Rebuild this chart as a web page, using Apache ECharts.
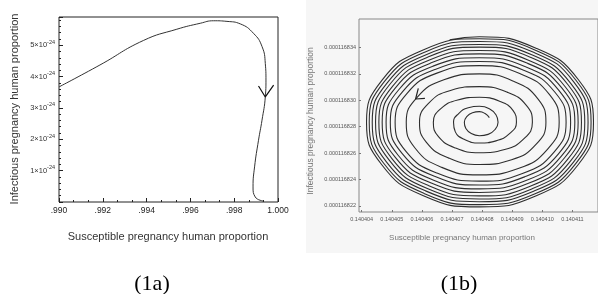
<!DOCTYPE html>
<html>
<head>
<meta charset="utf-8">
<script src="https://cdn.jsdelivr.net/npm/echarts@6/dist/echarts.min.js"></script>
<style>
  html, body { margin: 0; padding: 0; background: #fff; }
  #chart { width: 598px; height: 294px; }
</style>
</head>
<body>
<div id="chart"></div>
<script>
// (1a) trajectory, y in units of 1e-24
var leftX = [0.9900, 0.99187, 0.99385, 0.99538, 0.99645, 0.99706, 0.99767, 0.99828, 0.99888, 0.99927,
  0.99942, 0.99945, 0.99942, 0.99927, 0.99911, 0.99893, 0.99886, 0.99896, 0.99934];
var leftY = [3.67, 4.37, 5.15, 5.51, 5.70, 5.78, 5.76, 5.68, 5.38, 4.96,
  4.42, 3.89, 3.35, 2.61, 1.97, 1.12, 0.48, 0.16, 0.03];
var leftArrowX = [0.99911, 0.99942, 0.99980];
var leftArrowY = [3.70, 3.35, 3.73];
var leftXTicks = [0.990, 0.992, 0.994, 0.996, 0.998, 1.000];
var leftYTicks = [1, 2, 3, 4, 5];

// (1b) spiral, one row per turn (inside out)
var spiralX = [0.14040824, 0.14040811,
  0.14040791, 0.14040768, 0.14040749, 0.14040741, 0.14040746, 0.14040764, 0.14040791, 0.14040820, 0.14040843, 0.14040853, 0.14040846, 0.14040824,
  0.14040791, 0.14040754, 0.14040722, 0.14040705, 0.14040711, 0.14040742, 0.14040791, 0.14040846, 0.14040892, 0.14040914, 0.14040903, 0.14040858,
  0.14040791, 0.14040719, 0.14040662, 0.14040638, 0.14040655, 0.14040711, 0.14040791, 0.14040875, 0.14040940, 0.14040967, 0.14040947, 0.14040883,
  0.14040791, 0.14040695, 0.14040622, 0.14040592, 0.14040615, 0.14040688, 0.14040791, 0.14040898, 0.14040979, 0.14041012, 0.14040986, 0.14040905,
  0.14040791, 0.14040673, 0.14040584, 0.14040548, 0.14040577, 0.14040666, 0.14040791, 0.14040920, 0.14041017, 0.14041056, 0.14041024, 0.14040927,
  0.14040791, 0.14040652, 0.14040550, 0.14040511, 0.14040547, 0.14040650, 0.14040791, 0.14040934, 0.14041039, 0.14041079, 0.14041042, 0.14040936,
  0.14040791, 0.14040644, 0.14040536, 0.14040495, 0.14040534, 0.14040642, 0.14040791, 0.14040941, 0.14041053, 0.14041094, 0.14041055, 0.14040944,
  0.14040791, 0.14040637, 0.14040523, 0.14040481, 0.14040521, 0.14040635, 0.14040791, 0.14040948, 0.14041064, 0.14041108, 0.14041066, 0.14040951,
  0.14040791, 0.14040631, 0.14040512, 0.14040468, 0.14040511, 0.14040629, 0.14040791, 0.14040954, 0.14041074, 0.14041119, 0.14041076, 0.14040956,
  0.14040791, 0.14040625, 0.14040503, 0.14040457, 0.14040501, 0.14040623, 0.14040791, 0.14040960, 0.14041084, 0.14041130, 0.14041086, 0.14040962,
  0.14040791, 0.14040620, 0.14040493, 0.14040446, 0.14040492, 0.14040618, 0.14040791, 0.14040965, 0.14041094, 0.14041141, 0.14041095, 0.14040967,
  0.14040791, 0.14040614, 0.14040484, 0.14040435, 0.14040482, 0.14040612, 0.14040791, 0.14040971, 0.14041103, 0.14041152, 0.14041105, 0.14040973,
  0.14040791, 0.14040609, 0.14040475, 0.14040425, 0.14040473, 0.14040607, 0.14040791, 0.14040976, 0.14041111, 0.14041162, 0.14041113, 0.14040977,
  0.14040791, 0.14040604, 0.14040467, 0.14040416, 0.14040466, 0.14040603, 0.14040791, 0.14040980, 0.14041119, 0.14041170, 0.14041120, 0.14040981,
  0.14040791, 0.14040692];
var spiralY = [0.00011682869, 0.00011682898,
  0.00011682914, 0.00011682906, 0.00011682877, 0.00011682833, 0.00011682786, 0.00011682748, 0.00011682732, 0.00011682742, 0.00011682779, 0.00011682833, 0.00011682891, 0.00011682936,
  0.00011682955, 0.00011682944, 0.00011682900, 0.00011682833, 0.00011682761, 0.00011682703, 0.00011682677, 0.00011682693, 0.00011682749, 0.00011682833, 0.00011682922, 0.00011682993,
  0.00011683023, 0.00011683003, 0.00011682935, 0.00011682833, 0.00011682725, 0.00011682639, 0.00011682603, 0.00011682628, 0.00011682711, 0.00011682833, 0.00011682962, 0.00011683062,
  0.00011683104, 0.00011683075, 0.00011682977, 0.00011682833, 0.00011682682, 0.00011682564, 0.00011682514, 0.00011682550, 0.00011682666, 0.00011682833, 0.00011683009, 0.00011683144,
  0.00011683200, 0.00011683155, 0.00011683022, 0.00011682833, 0.00011682639, 0.00011682492, 0.00011682435, 0.00011682483, 0.00011682629, 0.00011682833, 0.00011683043, 0.00011683201,
  0.00011683263, 0.00011683208, 0.00011683051, 0.00011682833, 0.00011682613, 0.00011682449, 0.00011682388, 0.00011682445, 0.00011682608, 0.00011682833, 0.00011683061, 0.00011683230,
  0.00011683294, 0.00011683234, 0.00011683066, 0.00011682833, 0.00011682598, 0.00011682424, 0.00011682358, 0.00011682420, 0.00011682593, 0.00011682833, 0.00011683075, 0.00011683255,
  0.00011683322, 0.00011683259, 0.00011683080, 0.00011682833, 0.00011682584, 0.00011682399, 0.00011682329, 0.00011682394, 0.00011682579, 0.00011682833, 0.00011683090, 0.00011683280,
  0.00011683352, 0.00011683284, 0.00011683095, 0.00011682833, 0.00011682569, 0.00011682375, 0.00011682302, 0.00011682371, 0.00011682565, 0.00011682833, 0.00011683103, 0.00011683302,
  0.00011683377, 0.00011683306, 0.00011683107, 0.00011682833, 0.00011682557, 0.00011682353, 0.00011682276, 0.00011682349, 0.00011682552, 0.00011682833, 0.00011683116, 0.00011683325,
  0.00011683403, 0.00011683328, 0.00011683120, 0.00011682833, 0.00011682545, 0.00011682332, 0.00011682253, 0.00011682329, 0.00011682541, 0.00011682833, 0.00011683126, 0.00011683343,
  0.00011683423, 0.00011683346, 0.00011683130, 0.00011682833, 0.00011682534, 0.00011682314, 0.00011682232, 0.00011682311, 0.00011682530, 0.00011682833, 0.00011683138, 0.00011683362,
  0.00011683446, 0.00011683365, 0.00011683141, 0.00011682833, 0.00011682523, 0.00011682295, 0.00011682210, 0.00011682292, 0.00011682520, 0.00011682833, 0.00011683148, 0.00011683380,
  0.00011683466, 0.00011683382, 0.00011683151, 0.00011682833, 0.00011682514, 0.00011682279, 0.00011682193, 0.00011682277, 0.00011682512, 0.00011682833, 0.00011683156, 0.00011683393,
  0.00011683481, 0.00011683459];
var rightArrowX = [0.14040588, 0.14040579, 0.14040610];
var rightArrowY = [0.00011683090, 0.00011683010, 0.00011683014];
var rightXTicks = [0.140404, 0.140405, 0.140406, 0.140407, 0.140408, 0.140409, 0.140410, 0.140411];
var rightYTicks = [0.000116822, 0.000116824, 0.000116826, 0.000116828, 0.000116830, 0.000116832, 0.000116834];

function zip (xs, ys) {
  return xs.map(function (x, i) { return [x, ys[i]] })
}

var myChart = echarts.init(document.getElementById('chart'))
var font = 'Liberation Sans'

myChart.setOption({
  animation: false,
  textStyle: { fontFamily: font },
  graphic: [
    { type: 'rect', z: -100, shape: { x: 306, y: 0, width: 292, height: 253 }, style: { fill: '#f6f6f6' } },
    { type: 'text', x: 15, y: 109, rotation: Math.PI / 2,
      style: { text: 'Infectious pregnancy human proportion', fontSize: 11, fontFamily: font, fill: '#333', align: 'center', verticalAlign: 'middle' } },
    { type: 'text', x: 168, y: 237,
      style: { text: 'Susceptible pregnancy human proportion', fontSize: 11, fontFamily: font, fill: '#333', align: 'center', verticalAlign: 'middle' } },
    { type: 'text', x: 311, y: 121, rotation: Math.PI / 2,
      style: { text: 'Infectious pregnancy human proportion', fontSize: 8.5, fontFamily: font, fill: '#777', align: 'center', verticalAlign: 'middle' } },
    { type: 'text', x: 462, y: 238,
      style: { text: 'Susceptible pregnancy human proportion', fontSize: 8, fontFamily: font, fill: '#777', align: 'center', verticalAlign: 'middle' } },
    { type: 'text', x: 152, y: 284,
      style: { text: '(1a)', fontSize: 22, fontFamily: 'Liberation Serif', fill: '#000', align: 'center', verticalAlign: 'middle' } },
    { type: 'text', x: 459, y: 284,
      style: { text: '(1b)', fontSize: 22, fontFamily: 'Liberation Serif', fill: '#000', align: 'center', verticalAlign: 'middle' } }
  ],
  grid: [
    { left: 59, top: 17, right: 320, bottom: 92, show: true, borderColor: '#222', borderWidth: 1 },
    { left: 359, top: 19, right: -1, bottom: 82, show: true, borderColor: '#888', borderWidth: 1 }
  ],
  xAxis: [
    {
      type: 'value', gridIndex: 0, min: 0.990, max: 1.000, interval: 0.002,
      axisLine: { show: false },
      splitLine: { show: false },
      axisTick: { inside: true, length: 4, lineStyle: { color: '#222' } },
      minorTick: { show: true, splitNumber: 3, length: 2, lineStyle: { color: '#222' } },
      axisLabel: {
        fontSize: 8.5, color: '#222', margin: 4,
        formatter: function (v) {
          var t = leftXTicks.find(function (k) { return Math.abs(k - v) < 1e-9 })
          if (t === undefined) return ''
          return t >= 1 ? t.toFixed(3) : t.toFixed(3).slice(1)
        }
      }
    },
    {
      type: 'value', gridIndex: 1, min: 0.14040391, max: 0.14041185,
      axisLine: { show: false },
      splitLine: { show: false },
      axisTick: { inside: true, length: 2, customValues: rightXTicks, lineStyle: { color: '#777' } },
      axisLabel: {
        customValues: rightXTicks, fontSize: 5.5, color: '#555', margin: 4,
        formatter: function (v) { return v.toFixed(6) }
      }
    }
  ],
  yAxis: [
    {
      type: 'value', gridIndex: 0, min: 0, max: 5.9, interval: 1,
      axisLine: { show: false },
      splitLine: { show: false },
      axisTick: { inside: true, length: 4, lineStyle: { color: '#222' } },
      minorTick: { show: true, splitNumber: 5, length: 2, lineStyle: { color: '#222' } },
      axisLabel: {
        margin: 4,
        formatter: function (v) {
          var t = leftYTicks.find(function (k) { return Math.abs(k - v) < 1e-9 })
          if (t === undefined) return ''
          return '{m|' + t + '×10}{s|-24}'
        },
        rich: {
          m: { fontSize: 7.5, color: '#333', fontFamily: font },
          s: { fontSize: 5.5, color: '#333', fontFamily: font, padding: [0, 0, 6, 0] }
        }
      }
    },
    {
      type: 'value', gridIndex: 1, min: 0.00011682154, max: 0.00011683616,
      axisLine: { show: false },
      splitLine: { show: false },
      axisTick: { inside: true, length: 2, customValues: rightYTicks, lineStyle: { color: '#777' } },
      axisLabel: {
        customValues: rightYTicks, fontSize: 5.5, color: '#555', margin: 3,
        formatter: function (v) { return v.toFixed(9) }
      }
    }
  ],
  series: [
    {
      type: 'line', xAxisIndex: 0, yAxisIndex: 0,
      data: zip(leftX, leftY),
      showSymbol: false, smooth: 0.5, smoothMonotone: 'none',
      lineStyle: { color: '#333', width: 1 }
    },
    {
      type: 'line', xAxisIndex: 0, yAxisIndex: 0,
      data: zip(leftArrowX, leftArrowY),
      showSymbol: false,
      lineStyle: { color: '#111', width: 1.2 }
    },
    {
      type: 'line', xAxisIndex: 1, yAxisIndex: 1,
      data: zip(spiralX, spiralY),
      showSymbol: false, smooth: 0.5, smoothMonotone: 'none',
      lineStyle: { color: '#2e2e2e', width: 1.1 }
    },
    {
      type: 'line', xAxisIndex: 1, yAxisIndex: 1,
      data: zip(rightArrowX, rightArrowY),
      showSymbol: false,
      lineStyle: { color: '#222', width: 1.2 }
    }
  ]
})
</script>
</body>
</html>
